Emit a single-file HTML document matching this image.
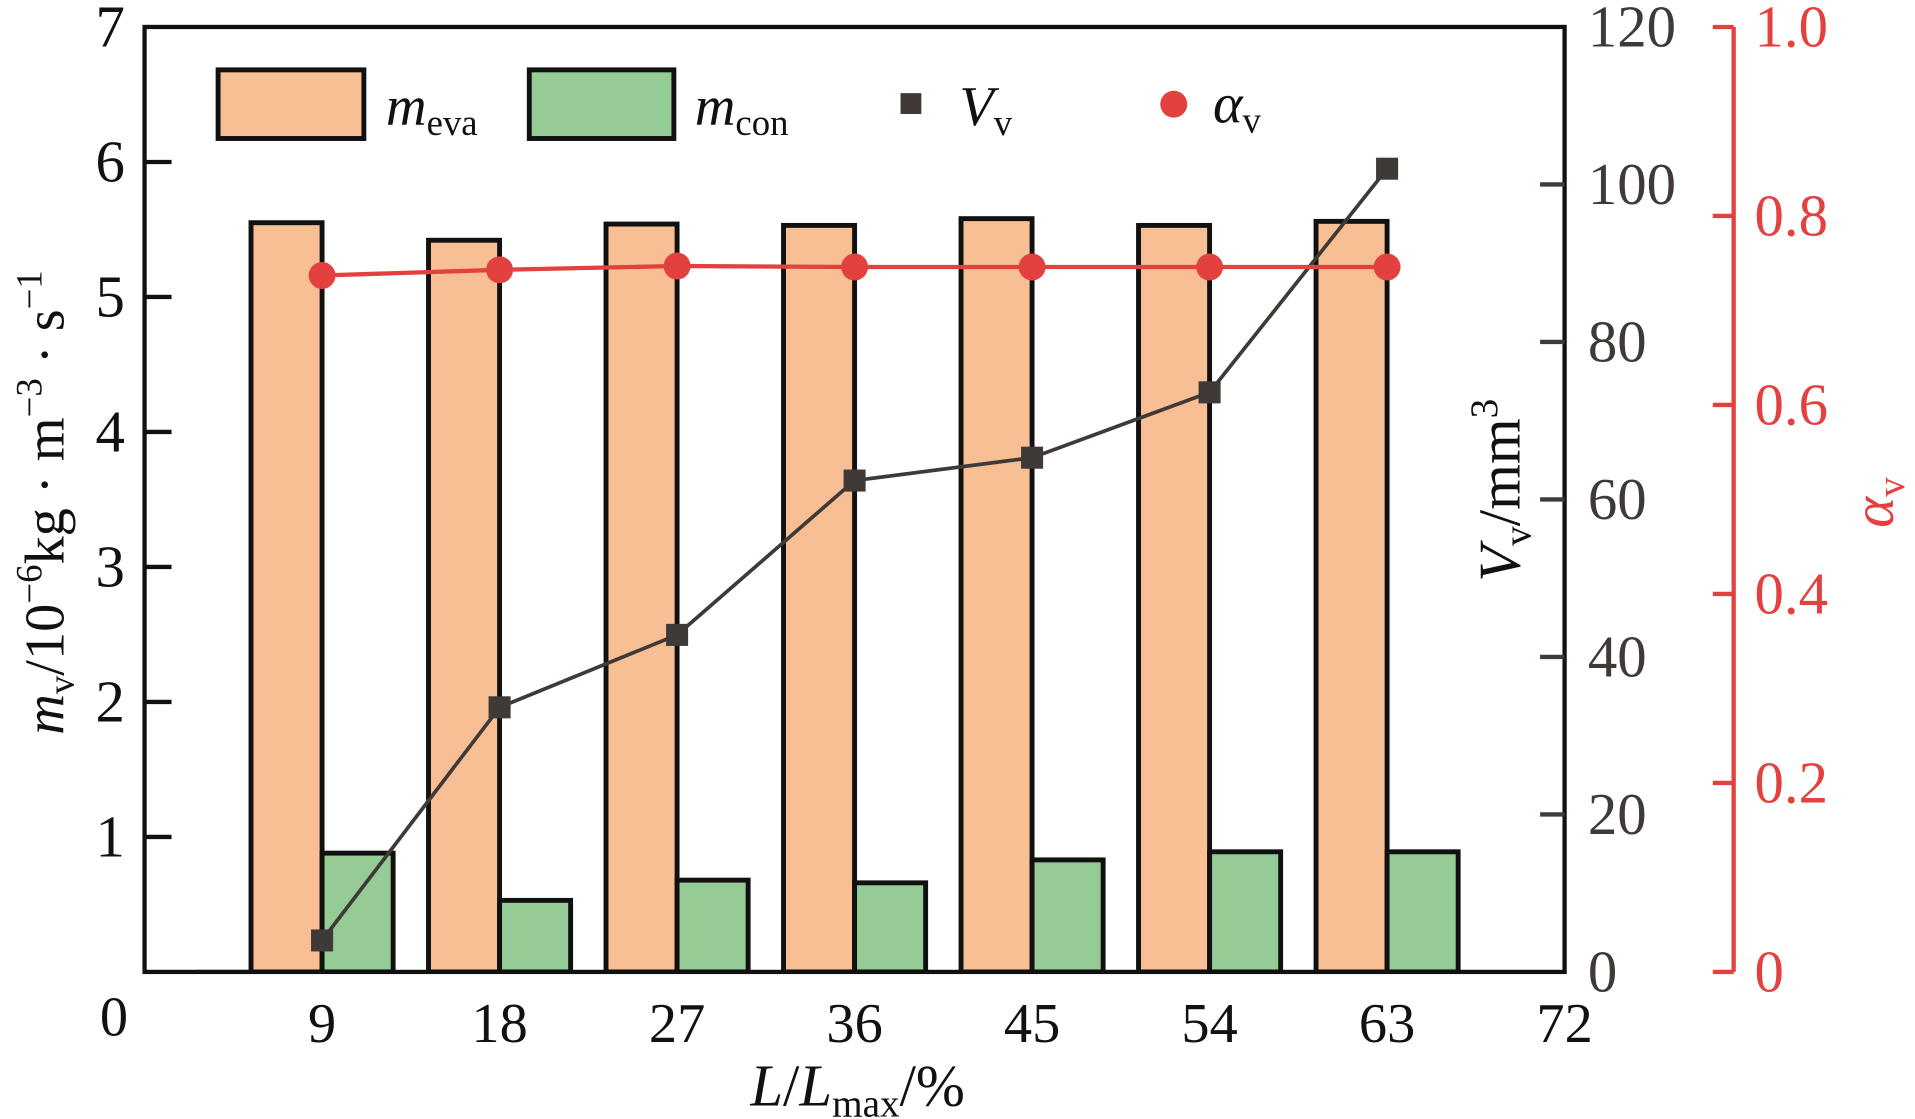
<!DOCTYPE html>
<html><head><meta charset="utf-8"><style>
html,body{margin:0;padding:0;background:#fff;}
svg{display:block;font-family:"Liberation Serif","Times New Roman",serif;}
</style></head><body>
<svg id="chart" width="1915" height="1119" viewBox="0 0 1563 913" preserveAspectRatio="none" xmlns="http://www.w3.org/2000/svg">
<defs><clipPath id="pc"><rect x="118" y="22" width="1159" height="771"/></clipPath></defs>
<g id="bars" clip-path="url(#pc)"></g>
<g id="lines"></g>
<rect x="118" y="22" width="1159" height="771" fill="none" stroke="#111" stroke-width="3.5"/>
<g id="axes"></g>
<g>
<rect x="178" y="57" width="119" height="56" fill="#f7bf93" stroke="#111" stroke-width="4"/>
<text x="315" y="102" font-size="46" font-style="italic" fill="#111">m<tspan font-size="30" font-style="normal" dy="8">eva</tspan></text>
<rect x="432" y="57" width="118" height="56" fill="#95cb94" stroke="#111" stroke-width="4"/>
<text x="567" y="102" font-size="46" font-style="italic" fill="#111">m<tspan font-size="30" font-style="normal" dy="8">con</tspan></text>
<rect x="735" y="76" width="17" height="17" fill="#3f3a37"/>
<text x="783" y="102" font-size="46" font-style="italic" fill="#111">V<tspan font-size="30" font-style="normal" dy="8">v</tspan></text>
<circle cx="958" cy="85" r="11" fill="#e2413f"/>
<text x="990" y="100" font-size="46" font-style="italic" fill="#111">α<tspan font-size="30" font-style="normal" dy="8">v</tspan></text>
</g>
<text x="700" y="902" text-anchor="middle" font-size="48" fill="#111"><tspan font-style="italic">L</tspan>/<tspan font-style="italic">L</tspan><tspan font-size="32" dy="9">max</tspan><tspan dy="-9">/%</tspan></text>
<text transform="translate(52,410) rotate(-90)" text-anchor="middle" font-size="46" fill="#111"><tspan font-style="italic">m</tspan><tspan font-size="30" dy="8">v</tspan><tspan dy="-8">/10</tspan><tspan font-size="30" dy="-18">−6</tspan><tspan dy="18">kg · m</tspan><tspan font-size="30" dy="-18">−3</tspan><tspan dy="18"> · s</tspan><tspan font-size="30" dy="-18">−1</tspan></text>
<text transform="translate(1240,400) rotate(-90)" text-anchor="middle" font-size="48" fill="#111"><tspan font-style="italic">V</tspan><tspan font-size="32" dy="9">v</tspan><tspan dy="-9">/mm</tspan><tspan font-size="32" dy="-18">3</tspan></text>
<text transform="translate(1545,410) rotate(-90)" text-anchor="middle" font-size="48" fill="#e2413f"><tspan font-style="italic">α</tspan><tspan font-size="32" dy="9">v</tspan></text>
</svg>
<script>
const categories=[9,18,27,36,45,54,63];
const mEva=[5.55,5.42,5.54,5.53,5.58,5.53,5.56];
const mCon=[0.88,0.53,0.68,0.66,0.83,0.89,0.89];
const vV=[4,33.6,42.8,62.4,65.3,73.6,102];
const alphaV=[0.737,0.743,0.747,0.746,0.746,0.746,0.746];
const xTicks=[9,18,27,36,45,54,63,72];
const yLeftTicks=[1,2,3,4,5,6,7];
const yRightTicks=[0,20,40,60,80,100,120];
const yAlphaTicks=[0,0.2,0.4,0.6,0.8,1.0];

const NS="http://www.w3.org/2000/svg";
const L=118,R=1277,T=22,B=793;
const x=v=>L+(v/72)*(R-L);
const yL=v=>B-(v/7)*(B-T);
const yR=v=>B-(v/120)*(B-T);
const yA=v=>B-(v/1)*(B-T);
const BW=58;
function mk(tag,attrs,parent){const e=document.createElementNS(NS,tag);for(const k in attrs)e.setAttribute(k,attrs[k]);parent.appendChild(e);return e;}
const gb=document.getElementById('bars'),gl=document.getElementById('lines'),ga=document.getElementById('axes');
mk('line',{x1:160,y1:B-1,x2:205,y2:B-1,stroke:'#888','stroke-width':1.5},gb);
categories.forEach((c,i)=>{
  let r=mk('rect',{x:x(c)-BW,y:yL(mEva[i]),width:BW,height:B-yL(mEva[i]),fill:'#f7bf93',stroke:'#111','stroke-width':4},gb);
  
  
  let g=mk('rect',{x:x(c),y:yL(mCon[i]),width:BW,height:B-yL(mCon[i]),fill:'#95cb94',stroke:'#111','stroke-width':4},gb);
  
  
});
let pv=mk('polyline',{points:categories.map((c,i)=>x(c)+','+yR(vV[i])).join(' '),fill:'none',stroke:'#3f3a37','stroke-width':3},gl);


let pa=mk('polyline',{points:categories.map((c,i)=>x(c)+','+yA(alphaV[i])).join(' '),fill:'none',stroke:'#e2413f','stroke-width':3.5},gl);


categories.forEach((c,i)=>{
  let s=mk('rect',{x:x(c)-9,y:yR(vV[i])-9,width:18,height:18,fill:'#3f3a37'},gl);
  
  
  let d=mk('circle',{cx:x(c),cy:yA(alphaV[i]),r:11,fill:'#e2413f'},gl);
  
  
});
function txt(s,a,name){const t=mk('text',a,ga);t.textContent=s;return t;}
txt('0',{x:93,y:845,'font-size':46,'text-anchor':'middle',fill:'#111'},'x-tick-label-0');
xTicks.forEach(v=>{txt(String(v),{x:x(v),y:850,'font-size':46,'text-anchor':'middle',fill:'#111'},'x-tick-label-'+v);});
yLeftTicks.forEach(v=>{
  if(v<7){let l=mk('line',{x1:L,y1:yL(v),x2:L+22,y2:yL(v),stroke:'#111','stroke-width':3.5},ga);}
  txt(String(v),{x:102,y:yL(v)+16,'font-size':48,'text-anchor':'end',fill:'#111'},'y-left-tick-label-'+v);
});
yRightTicks.forEach(v=>{
  if(v>0&&v<120){let l=mk('line',{x1:R,y1:yR(v),x2:R-20,y2:yR(v),stroke:'#3f3a37','stroke-width':3.5},ga);}
  txt(String(v),{x:1296,y:yR(v)+16,'font-size':48,fill:'#3f3a37'},'y-right-tick-label-'+v);
});
let ax=mk('line',{x1:1415,y1:T,x2:1415,y2:B,stroke:'#e2413f','stroke-width':3.5},ga);


yAlphaTicks.forEach(v=>{
  let l=mk('line',{x1:1415,y1:yA(v),x2:1398,y2:yA(v),stroke:'#e2413f','stroke-width':3.5},ga);
  
  
  txt(v===0?'0':v.toFixed(1),{x:1432,y:yA(v)+16,'font-size':48,fill:'#e2413f'},'alpha-tick-label-'+v);
});
</script>
</body></html>
